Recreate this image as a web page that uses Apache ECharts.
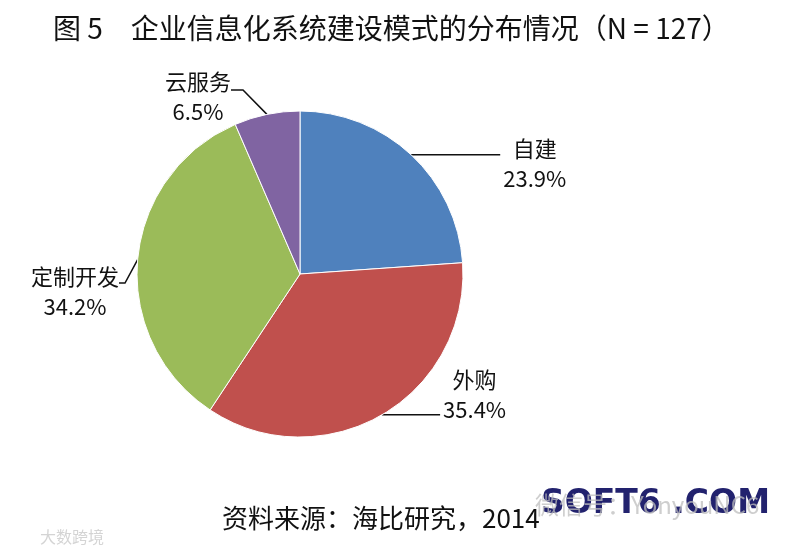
<!DOCTYPE html>
<html>
<head>
<meta charset="utf-8">
<script src="https://cdn.jsdelivr.net/npm/echarts@6/dist/echarts.min.js"></script>
<style>html,body{margin:0;padding:0;background:#fff;}#c{width:795px;height:552px;}</style>
</head>
<body>
<div id="c"></div>
<script>
var categories = ['自建', '外购', '定制开发', '云服务'];
var values = [23.9, 35.4, 34.2, 6.5];
var colors = ['#4F81BD', '#C0504D', '#9BBB59', '#8064A2'];
var titleText = '图 5　企业信息化系统建设模式的分布情况（N = 127）';
var sourceText = '资料来源：海比研究，2014';

// label styling config (not data)
var labelCfg = [
  { length: 0,  length2: 89, spacer: 'top',    spacerH: 18 },
  { length: 0,  length2: 58, spacer: 'bottom', spacerH: 40 },
  { length: 8,  length2: 6,  spacer: 'top',    spacerH: 18, pos: [119, 283] },
  { length: 30, length2: 12, spacer: 'top',    spacerH: 10, pos: [231, 92] }
];

var cjk = '"Noto Sans CJK SC", sans-serif';
var rich = {
  n: { height: 30, fontSize: 22, fontFamily: cjk, align: 'center', color: '#111' },
  p: { height: 30, fontSize: 22, fontFamily: cjk, align: 'center', color: '#111' }
};
labelCfg.forEach(function (c, i) {
  rich['e' + i] = { height: c.spacerH, fontSize: 10, fontFamily: cjk };
});

var data = categories.map(function (name, i) {
  var c = labelCfg[i];
  return {
    name: name,
    value: values[i],
    itemStyle: { color: colors[i] },
    labelLine: { length: c.length, length2: c.length2 },
    label: { formatter: c.spacer === 'top'
      ? '{e' + i + '|}\n{n|{b}}\n{p|{c}%}'
      : '{n|{b}}\n{p|{c}%}\n{e' + i + '|}' }
  };
});

var chart = echarts.init(document.getElementById('c'), null, { renderer: 'canvas' });
chart.setOption({
  backgroundColor: '#ffffff',
  animation: false,
  title: {
    text: titleText,
    left: 48, top: 9,
    textStyle: { fontFamily: cjk, fontSize: 28, fontWeight: 'normal', color: '#111' }
  },
  graphic: [
    { type: 'text', left: 222, top: 505, style: { text: sourceText, font: '26px "Noto Sans CJK SC", sans-serif', fill: '#111' } },
    { type: 'text', left: 541, top: 488, style: { text: 'SOFT6 .COM', font: 'bold 33px "DejaVu Sans", sans-serif', fill: '#22226e' } },
    { type: 'text', left: 535, top: 493, style: { text: '微信号：YonyouNC6', font: '24px "Noto Sans CJK SC", sans-serif', fill: 'rgba(190,190,190,0.75)' } },
    { type: 'text', left: 40, top: 529, style: { text: '大数跨境', font: '16px "Noto Sans CJK SC", sans-serif', fill: '#d4d4d4' } }
  ],
  series: [{
    type: 'pie',
    center: [300, 274],
    radius: 163,
    startAngle: 90,
    clockwise: true,
    avoidLabelOverlap: false,
    itemStyle: { borderColor: '#ffffff', borderWidth: 1 },
    label: {
      show: true,
      position: 'outside',
      distanceToLabelLine: 3,
      color: '#111',
      rich: rich
    },
    labelLine: { show: true, smooth: false, lineStyle: { color: '#111', width: 1.5 } },
    labelLayout: function (params) {
      var c = labelCfg[params.dataIndex];
      if (c && c.pos) {
        return { x: c.pos[0], y: c.pos[1], align: 'right', verticalAlign: 'middle' };
      }
      return {};
    },
    data: data
  }]
});
</script>
</body>
</html>
